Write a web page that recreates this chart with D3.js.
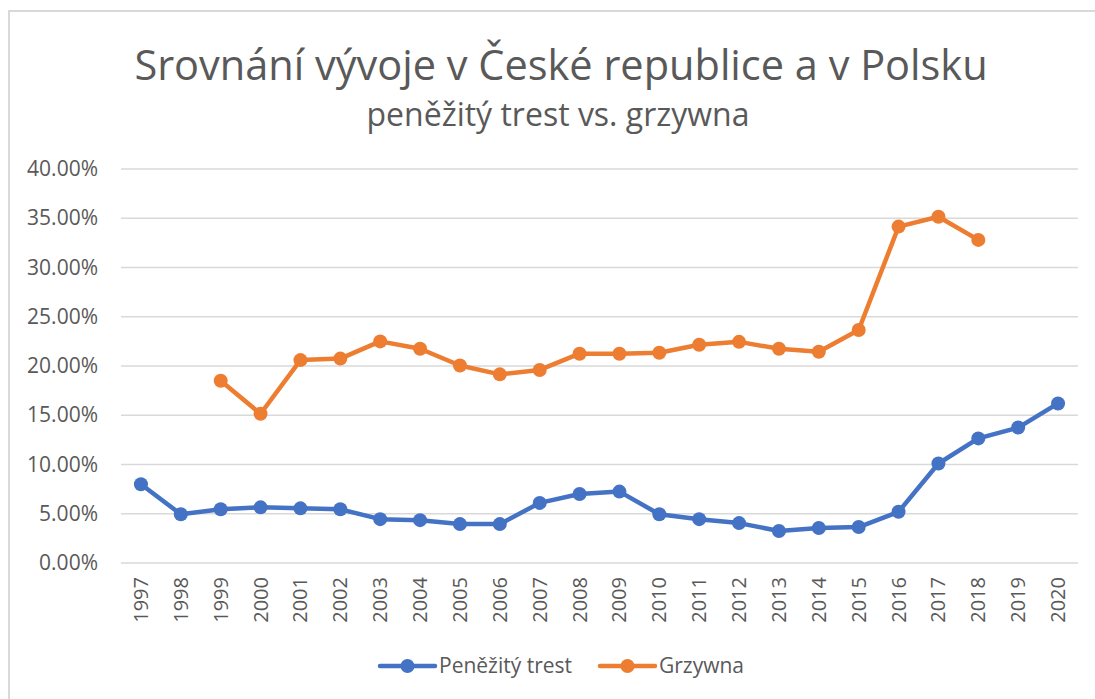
<!DOCTYPE html>
<html>
<head>
<meta charset="utf-8">
<script src="https://cdn.jsdelivr.net/npm/d3@7"></script>
<style>
  body { margin: 0; background: #fff; }
  svg text { font-family: "Open Sans", "Noto Sans", sans-serif; fill: #595959; }
</style>
</head>
<body>
<svg id="chart" width="1095" height="699"></svg>
<script>
// data (percent)
var years = ["1997","1998","1999","2000","2001","2002","2003","2004","2005","2006","2007","2008",
  "2009","2010","2011","2012","2013","2014","2015","2016","2017","2018","2019","2020"]
var penezity = [8.0, 4.95, 5.45, 5.65, 5.55, 5.45, 4.45, 4.35, 3.95, 3.95, 6.1, 7.0,
  7.25, 4.95, 4.45, 4.05, 3.25, 3.55, 3.65, 5.2, 10.1, 12.65, 13.75, 16.2]
var grzywna = [null, null, 18.5, 15.15, 20.6, 20.75, 22.5, 21.75, 20.05, 19.15, 19.6, 21.25,
  21.25, 21.35, 22.15, 22.45, 21.75, 21.45, 23.65, 34.15, 35.15, 32.8, null, null]
var yTicks = [0, 5, 10, 15, 20, 25, 30, 35, 40]
var seriesNames = ["Peněžitý trest", "Grzywna"]
var colors = ["#4472c4", "#ed7d31"]

var svg = d3.select('#chart')
var W = 1095, H = 699
var m = {left: 121, right: 1078, top: 169, bottom: 563}

// outer chart border
svg.append('rect').attr('x', 9).attr('y', 11).attr('width', W).attr('height', H)
  .attr('fill', 'none').attr('stroke', '#d9d9d9').attr('stroke-width', 2)

svg.append('text').attr('x', 561).attr('y', 80).attr('text-anchor', 'middle')
  .style('font-size', '41.5px').text('Srovnání vývoje v České republice a v Polsku')
svg.append('text').attr('x', 558).attr('y', 126).attr('text-anchor', 'middle')
  .style('font-size', '32px').text('peněžitý trest vs. grzywna')

var x = d3.scaleBand().domain(years).range([m.left, m.right])
var y = d3.scaleLinear().domain([0, 40]).range([m.bottom, m.top])

// gridlines
svg.append('g').selectAll('line').data(yTicks).join('line')
  .attr('x1', m.left).attr('x2', m.right)
  .attr('y1', d => y(d)).attr('y2', d => y(d))
  .attr('stroke', '#d9d9d9').attr('stroke-width', 1.3)

var yAxis = svg.append('g').attr('transform', 'translate(' + m.left + ',0)')
  .call(d3.axisLeft(y).tickValues(yTicks).tickSize(0).tickPadding(23).tickFormat(d => d.toFixed(2) + '%'))
yAxis.select('.domain').remove()
yAxis.selectAll('text').style('font-size', '21px').attr('fill', '#595959')

var xAxis = svg.append('g').attr('transform', 'translate(0,' + m.bottom + ')')
  .call(d3.axisBottom(x).tickSize(0).tickPadding(0))
xAxis.select('.domain').remove()
xAxis.selectAll('text').style('font-size', '20px').attr('fill', '#595959')
  .attr('transform', 'rotate(-90)').attr('text-anchor', 'end')
  .attr('x', -14).attr('y', 0).attr('dy', '0.35em')

var cx = d => x(d) + x.bandwidth() / 2
var line = d3.line().defined(d => d[1] != null).x(d => cx(d[0])).y(d => y(d[1]))

;[penezity, grzywna].forEach(function(vals, i) {
  var pts = years.map((yr, j) => [yr, vals[j]])
  var g = svg.append('g')
  g.append('path').attr('d', line(pts)).attr('fill', 'none')
    .attr('stroke', colors[i]).attr('stroke-width', 4.5).attr('stroke-linejoin', 'round')
  g.selectAll('circle').data(pts.filter(d => d[1] != null)).join('circle')
    .attr('cx', d => cx(d[0])).attr('cy', d => y(d[1])).attr('r', 7).attr('fill', colors[i])
})

// legend
var legX = [380, 600]
seriesNames.forEach(function(name, i) {
  var g = svg.append('g').attr('transform', 'translate(' + legX[i] + ',666)')
  g.append('line').attr('x1', 0).attr('x2', 55).attr('stroke', colors[i])
    .attr('stroke-width', 4.5).attr('stroke-linecap', 'round')
  g.append('circle').attr('cx', 27.5).attr('r', 7).attr('fill', colors[i])
  g.append('text').attr('x', 59).attr('dy', '0.35em').style('font-size', '21px').text(name)
})
</script>
</body>
</html>
